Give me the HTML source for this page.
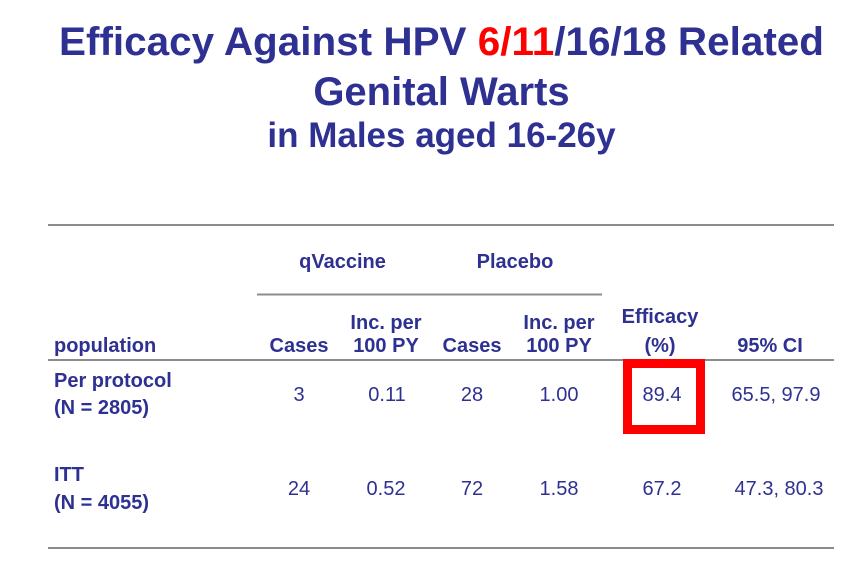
<!DOCTYPE html>
<html>
<head>
<meta charset="utf-8">
<style>
  html, body { margin: 0; padding: 0; background: #ffffff; }
  body { width: 866px; height: 563px; overflow: hidden; }
  svg { display: block; }
  .t { font-family: "Liberation Sans", Arial, sans-serif; fill: #2e3192; }
  .b { font-weight: bold; }
</style>
</head>
<body>
<svg width="866" height="563" viewBox="0 0 866 563" xmlns="http://www.w3.org/2000/svg">
  <rect x="0" y="0" width="866" height="563" fill="#ffffff"/>

  <!-- Title -->
  <text class="t b" x="59" y="55" font-size="40" textLength="765" lengthAdjust="spacingAndGlyphs">Efficacy Against HPV <tspan fill="#ff0000">6/11</tspan>/16/18 Related</text>
  <text class="t b" x="441.5" y="105" font-size="40" text-anchor="middle">Genital Warts</text>
  <text class="t b" x="441.5" y="147" font-size="35" text-anchor="middle">in Males aged 16-26y</text>

  <!-- Rules -->
  <line x1="48" y1="225" x2="834" y2="225" stroke="#8c8c8c" stroke-width="2"/>
  <line x1="257" y1="294.5" x2="602" y2="294.5" stroke="#8c8c8c" stroke-width="2"/>
  <line x1="48" y1="360" x2="834" y2="360" stroke="#8c8c8c" stroke-width="2"/>
  <line x1="48" y1="548" x2="834" y2="548" stroke="#8c8c8c" stroke-width="2"/>

  <!-- Group headers -->
  <text class="t b" x="342.5" y="268" font-size="20" text-anchor="middle">qVaccine</text>
  <text class="t b" x="515" y="268" font-size="20" text-anchor="middle">Placebo</text>

  <!-- Column headers -->
  <text class="t b" x="54" y="352" font-size="20">population</text>
  <text class="t b" x="299" y="352" font-size="20" text-anchor="middle">Cases</text>
  <text class="t b" x="386" y="329" font-size="20" text-anchor="middle">Inc. per</text>
  <text class="t b" x="386" y="352" font-size="20" text-anchor="middle">100 PY</text>
  <text class="t b" x="472" y="352" font-size="20" text-anchor="middle">Cases</text>
  <text class="t b" x="559" y="329" font-size="20" text-anchor="middle">Inc. per</text>
  <text class="t b" x="559" y="352" font-size="20" text-anchor="middle">100 PY</text>
  <text class="t b" x="660" y="323" font-size="20" text-anchor="middle">Efficacy</text>
  <text class="t b" x="660" y="352" font-size="20" text-anchor="middle">(%)</text>
  <text class="t b" x="770" y="352" font-size="20" text-anchor="middle">95% CI</text>

  <!-- Row 1 -->
  <text class="t b" x="54" y="387" font-size="20">Per protocol</text>
  <text class="t b" x="54" y="414" font-size="20">(N = 2805)</text>
  <text class="t" x="299" y="401" font-size="20" text-anchor="middle">3</text>
  <text class="t" x="387" y="401" font-size="20" text-anchor="middle">0.11</text>
  <text class="t" x="472" y="401" font-size="20" text-anchor="middle">28</text>
  <text class="t" x="559" y="401" font-size="20" text-anchor="middle">1.00</text>
  <text class="t" x="662" y="401" font-size="20" text-anchor="middle">89.4</text>
  <text class="t" x="776" y="401" font-size="20" text-anchor="middle">65.5, 97.9</text>

  <!-- Red highlight box -->
  <rect x="627.5" y="363.5" width="73" height="66" fill="none" stroke="#ff0000" stroke-width="9"/>

  <!-- Row 2 -->
  <text class="t b" x="54" y="481" font-size="20">ITT</text>
  <text class="t b" x="54" y="509" font-size="20">(N = 4055)</text>
  <text class="t" x="299" y="495" font-size="20" text-anchor="middle">24</text>
  <text class="t" x="386" y="495" font-size="20" text-anchor="middle">0.52</text>
  <text class="t" x="472" y="495" font-size="20" text-anchor="middle">72</text>
  <text class="t" x="559" y="495" font-size="20" text-anchor="middle">1.58</text>
  <text class="t" x="662" y="495" font-size="20" text-anchor="middle">67.2</text>
  <text class="t" x="779" y="495" font-size="20" text-anchor="middle">47.3, 80.3</text>
</svg>
</body>
</html>
